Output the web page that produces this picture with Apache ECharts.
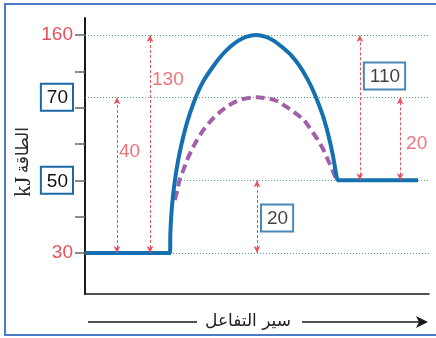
<!DOCTYPE html>
<html>
<head>
<meta charset="utf-8">
<script src="https://cdn.jsdelivr.net/npm/echarts@6/dist/echarts.min.js"></script>
<style>
  html, body { margin: 0; padding: 0; background: #fff; }
  #chart { width: 436px; height: 338px; }
</style>
</head>
<body>
<div id="chart"></div>
<script>
// Energy levels of the reaction, in kJ
const energyKJ = [30, 50, 70, 160];
// Where each level sits on the (schematic, not to scale) energy axis
const levelSlot = [0, 2, 4.29, 6];
// Levels written in a box rather than in red
const boxedLevels = [50, 70];
// Tick positions along the energy axis
const tickSlots = [0, 1, 2, 3, 4, 5, 6];

// Uncatalysed profile: reaction progress (0-100) and height on the energy axis
const uncatX = [0, 24.71, 24.80, 25.09, 25.61, 26.37, 27.38, 28.69, 30.35, 32.47, 34.59, 37.50, 39.83, 42.15, 44.48, 46.80, 49.71,
                52.62, 54.94, 57.27, 59.88, 62.21, 64.83, 66.86, 69.07, 70.73, 72.03, 73.05, 73.55, 96.80];
const uncatY = [0, 0, 0.50, 1.05, 1.60, 2.15, 2.70, 3.25, 3.80, 4.35, 4.76, 5.17, 5.45, 5.67, 5.84, 5.95, 6.0,
                5.95, 5.84, 5.67, 5.45, 5.17, 4.76, 4.35, 3.80, 3.25, 2.70, 2.15, 2.0, 2.0];
// Catalysed profile
const catX = [26.10, 26.86, 27.47, 28.58, 29.68, 31.02, 32.56, 34.42, 36.77, 39.24, 41.54, 43.66, 45.99, 50.0,
              54.07, 56.40, 58.14, 60.76, 63.66, 65.70, 67.73, 69.33, 70.64, 71.95, 73.11];
const catY = [1.46, 1.73, 2.01, 2.28, 2.56, 2.84, 3.11, 3.39, 3.66, 3.88, 4.05, 4.16, 4.24, 4.29,
              4.24, 4.16, 4.05, 3.88, 3.66, 3.39, 3.11, 2.84, 2.56, 2.28, 2.01];

// Energy differences marked with double arrows
const gapFrom = [30, 30, 30, 50, 50];
const gapTo = [70, 160, 50, 160, 70];
const gapBoxed = [false, false, true, true, false];

// Layout of the arrows and their labels
const arrowAt = [9.3, 18.9, 50.0, 79.9, 91.6];
const labelAt = [2.78, 4.76, 0.96, 4.87, 3.0];
const labelGap = [2, 2, 4, 4, 6];
// Dotted guide lines: level and where they begin
const guideLevels = [160, 70, 50, 30];
const guideStart = [0, 0, 26.2, 24.7];

const RED = '#e8505b';
const BLUE = '#1470b0';
const BOX = '#1b6aa5';
const FONT = '"Liberation Sans", Arial, sans-serif';

const slotOf = e => levelSlot[energyKJ.indexOf(e)];
const zip = (xs, ys) => xs.map((x, i) => [x, ys[i]]);

const boxStyle = {
  color: '#111', fontSize: 19, fontFamily: FONT,
  borderColor: BOX, borderWidth: 2, padding: [5, 5, 3, 6], lineHeight: 20
};
const redStyle = { color: RED, fontSize: 19, fontFamily: FONT };

const chart = echarts.init(document.getElementById('chart'), null, { renderer: 'canvas' });

chart.setOption({
  animation: false,
  backgroundColor: '#fff',
  grid: { left: 85, right: 7, top: 18, bottom: 44, containLabel: false, outerBoundsMode: 'none' },
  xAxis: {
    type: 'value', min: 0, max: 100,
    axisLine: { show: true, onZero: false, lineStyle: { color: '#1a1a1a', width: 1.5 } },
    axisTick: { show: false }, axisLabel: { show: false }, splitLine: { show: false }
  },
  yAxis: {
    type: 'value', min: -1.13, max: 6.47,
    name: '{u|kJ} {a|الطاقة}',
    nameLocation: 'middle', nameRotate: 90, nameGap: 50, nameMoveOverlap: false,
    nameTextStyle: {
      padding: [0, 12, 0, 0],
      rich: {
        u: { fontFamily: '"Liberation Serif", "DejaVu Serif", serif', fontSize: 23, color: '#2a2a2a' },
        a: { fontFamily: '"DejaVu Sans", sans-serif', fontSize: 17, color: '#2a2a2a' }
      }
    },
    axisLine: { show: true, onZero: false, lineStyle: { color: '#1a1a1a', width: 2 } },
    axisTick: { show: true, customValues: tickSlots, length: 10, lineStyle: { color: '#666', width: 1.5 } },
    axisLabel: {
      show: true, margin: 12, customValues: levelSlot,
      formatter: v => {
        const i = levelSlot.findIndex(s => Math.abs(s - v) < 1e-6);
        if (i < 0) return '';
        const e = energyKJ[i];
        return boxedLevels.includes(e) ? `{box|${e}}` : `{red|${e}}`;
      },
      rich: { box: boxStyle, red: redStyle }
    },
    splitLine: { show: false }
  },
  graphic: [
    {
      type: 'rect', silent: true, z: 10,
      shape: { x: 5, y: 4, width: 440, height: 331 },
      style: { fill: 'none', stroke: '#4a7bc8', lineWidth: 2 }
    },
    {
      type: 'group', silent: true,
      children: [
        { type: 'line', shape: { x1: 88, y1: 322, x2: 197, y2: 322 }, style: { stroke: '#1a1a1a', lineWidth: 1.5 } },
        { type: 'line', shape: { x1: 302, y1: 322, x2: 420, y2: 322 }, style: { stroke: '#1a1a1a', lineWidth: 1.5 } },
        { type: 'polygon', shape: { points: [[428, 322], [416, 316], [419, 322], [416, 328]] }, style: { fill: '#1a1a1a' } },
        {
          type: 'text', x: 248, y: 322,
          style: { text: 'سير التفاعل', fontSize: 17, fontFamily: '"DejaVu Sans", sans-serif', fill: '#222', align: 'center', verticalAlign: 'middle' }
        }
      ]
    }
  ],
  series: [
    {
      name: 'guides', type: 'line', data: [], silent: true, z: 1,
      markLine: {
        silent: true, symbol: ['none', 'none'], z: 1, animation: false,
        label: { show: false },
        lineStyle: { type: [1, 2], color: '#4e9c7e', width: 1 },
        data: guideLevels.map((e, i) => [
          { coord: [guideStart[i], slotOf(e)] },
          { coord: [100, slotOf(e)] }
        ])
      }
    },
    {
      name: 'catalysed', type: 'line', data: zip(catX, catY),
      smooth: 0.2, showSymbol: false, silent: true, z: 2,
      lineStyle: { color: '#a35fa9', width: 4, type: [9, 5] }
    },
    {
      name: 'uncatalysed', type: 'line', data: zip(uncatX, uncatY),
      smooth: 0.2, showSymbol: false, silent: true, z: 3,
      lineStyle: { color: BLUE, width: 4 }
    },
    {
      name: 'gaps', type: 'line', data: [], silent: true, z: 4,
      markLine: {
        silent: true, z: 6, animation: false,
        symbol: ['arrow', 'arrow'], symbolSize: [5, 7],
        label: { show: false },
        lineStyle: { type: [3, 2], color: RED, width: 1 },
        data: gapFrom.map((f, i) => [
          { coord: [arrowAt[i], slotOf(f)] },
          { coord: [arrowAt[i], slotOf(gapTo[i])] }
        ])
      }
    },
    {
      name: 'gapLabels', type: 'scatter', silent: true, z: 7,
      symbolSize: 0,
      data: gapFrom.map((f, i) => ({
        value: [arrowAt[i], labelAt[i]],
        label: {
          show: true, position: 'right', distance: labelGap[i],
          formatter: gapBoxed[i] ? `{box|${gapTo[i] - f}}` : `{red|${gapTo[i] - f}}`,
          rich: { box: boxStyle, red: redStyle }
        }
      }))
    }
  ]
});
</script>
</body>
</html>
